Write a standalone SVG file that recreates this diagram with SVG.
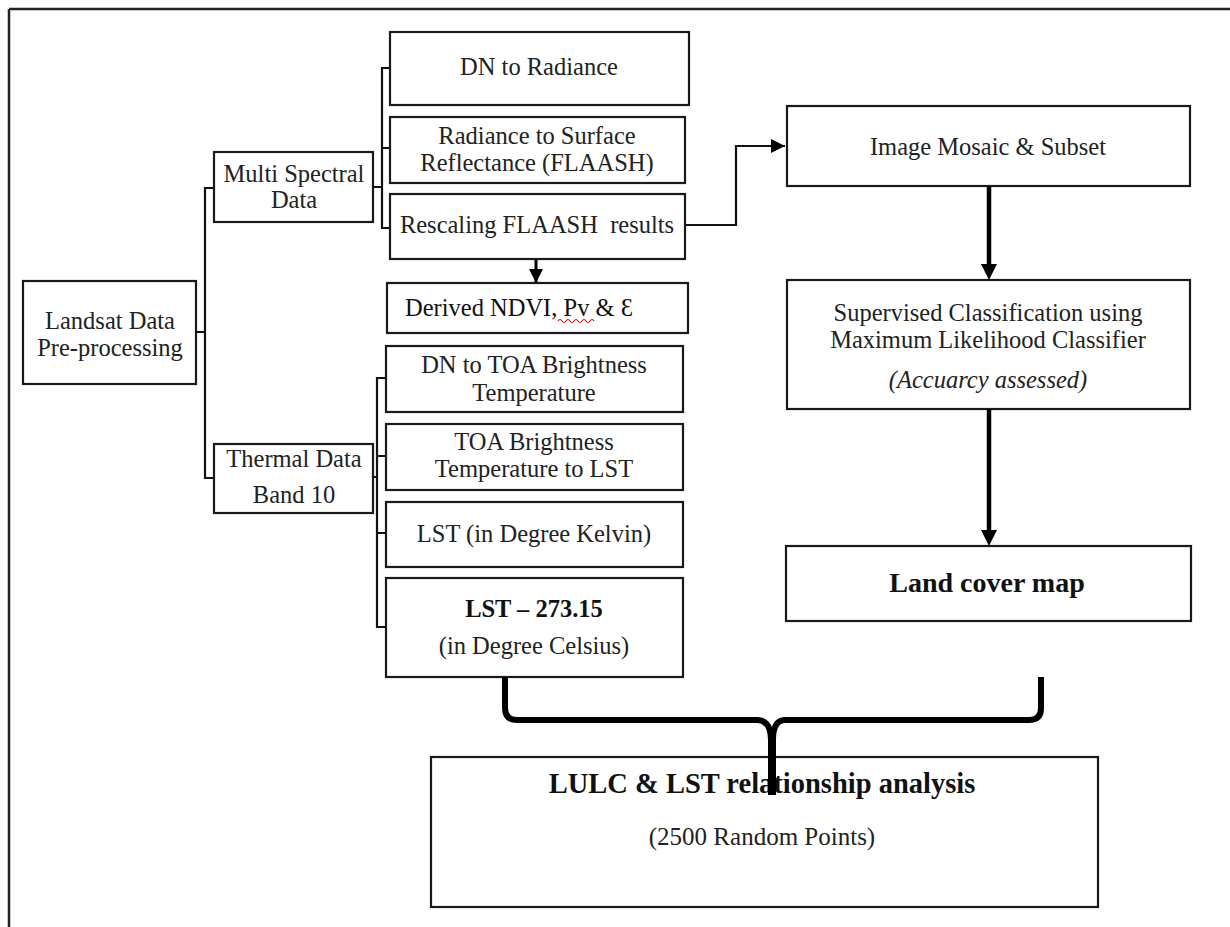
<svg xmlns="http://www.w3.org/2000/svg" width="1230" height="927" viewBox="0 0 1230 927">
<defs>
<style>
.box{fill:#fff;stroke:#1a1a1a;stroke-width:2.2}
.t{font-family:"Liberation Serif","Times New Roman",serif;font-size:24.5px;fill:#222;text-anchor:middle}
.b{font-weight:bold;fill:#111}
.i{font-style:italic}
.ln{fill:none;stroke:#111;stroke-width:2.2}
.thick{fill:none;stroke:#000;stroke-width:4.5}
.brace{fill:none;stroke:#000;stroke-width:6;stroke-linejoin:round}
</style>
<marker id="ah" viewBox="0 0 10 10" refX="5" refY="5" markerWidth="16" markerHeight="16" markerUnits="userSpaceOnUse" orient="auto">
<path d="M0,0 L10,5 L0,10 z" fill="#000"/>
</marker>
<marker id="ahs" viewBox="0 0 10 10" refX="10" refY="5" markerWidth="14" markerHeight="14" markerUnits="userSpaceOnUse" orient="auto">
<path d="M0,0 L10,5 L0,10 z" fill="#000"/>
</marker>
</defs>
<rect width="1230" height="927" fill="#fff"/>
<path d="M9,9 H1230 M9,9 V927" fill="none" stroke="#222" stroke-width="2.5"/>

<g id="landsat"><rect class="box" x="23" y="281" width="173" height="103"/>
<text class="t" x="110" y="329">Landsat Data</text><text class="t" x="110" y="356">Pre-processing</text></g>

<g id="multispectral"><rect class="box" x="214" y="152" width="159" height="70"/>
<text class="t" x="294" y="182">Multi Spectral</text><text class="t" x="294" y="208">Data</text></g>

<g id="thermal"><rect class="box" x="214" y="444" width="159" height="69"/>
<text class="t" x="294" y="467">Thermal Data</text><text class="t" x="294" y="503">Band 10</text></g>

<g id="dn-radiance"><rect class="box" x="390" y="32" width="299" height="73"/>
<text class="t" x="539" y="75">DN to Radiance</text></g>

<g id="radiance-reflectance"><rect class="box" x="390" y="117" width="295" height="66"/>
<text class="t" x="537" y="144">Radiance to Surface</text><text class="t" x="537" y="171">Reflectance (FLAASH)</text></g>

<g id="rescaling"><rect class="box" x="390" y="194" width="295" height="65"/>
<text class="t" x="537" y="233" xml:space="preserve">Rescaling FLAASH  results</text></g>

<g id="derived"><rect class="box" x="387" y="283" width="301" height="50"/>
<text class="t" x="405" y="316" style="text-anchor:start;fill:#111">Derived NDVI, Pv &amp; Ɛ</text>
<path d="M558,321 q2,-3 4,0 t4,0 t4,0 t4,0 t4,0 t4,0 t4,0 t4,0 t4,0" fill="none" stroke="#e01010" stroke-width="1.2"/></g>

<g id="dn-toa"><rect class="box" x="386" y="346" width="297" height="66"/>
<text class="t" x="534" y="373">DN to TOA Brightness</text><text class="t" x="534" y="401">Temperature</text></g>

<g id="toa-lst"><rect class="box" x="386" y="424" width="297" height="66"/>
<text class="t" x="534" y="450">TOA Brightness</text><text class="t" x="534" y="477">Temperature to LST</text></g>

<g id="lst-kelvin"><rect class="box" x="386" y="502" width="297" height="65"/>
<text class="t" x="534" y="542">LST (in Degree Kelvin)</text></g>

<g id="lst-celsius"><rect class="box" x="386" y="578" width="297" height="99"/>
<text class="t b" x="534" y="617">LST – 273.15</text><text class="t" x="534" y="654">(in Degree Celsius)</text></g>

<g id="mosaic"><rect class="box" x="787" y="106" width="403" height="80"/>
<text class="t" x="988" y="155">Image Mosaic &amp; Subset</text></g>

<g id="classification"><rect class="box" x="787" y="280" width="403" height="129"/>
<text class="t" x="988" y="321">Supervised Classification using</text>
<text class="t" x="988" y="348">Maximum Likelihood Classifier</text>
<text class="t i" x="988" y="388">(Accuarcy assessed)</text></g>

<g id="landcover"><rect class="box" x="786" y="546" width="405" height="75"/>
<text class="t b" x="987" y="592" style="font-size:28px">Land cover map</text></g>

<g id="lulc"><rect class="box" x="431" y="757" width="667" height="150"/>
<text class="t b" x="762" y="793" style="font-size:28.5px">LULC &amp; LST relationship analysis</text>
<text class="t" x="762" y="845" style="font-size:25px">(2500 Random Points)</text></g>

<g id="connectors">
<path class="ln" d="M196,332 H205 M214,188 H205 V478 H214"/>
<path class="ln" d="M373,187 H382 M390,68 H382 V228 H390 M382,148 H390"/>
<path class="ln" d="M373,477 H377 M386,378 H377 V627 H386 M377,456 H386 M377,533 H386"/>
<path class="ln" d="M685,225 H736 V146 H785" marker-end="url(#ahs)"/>
<path d="M536,259 V283" fill="none" stroke="#000" stroke-width="3" marker-end="url(#ahs)"/>
<path class="thick" d="M989,186 V272" marker-end="url(#ah)"/>
<path class="thick" d="M989,409 V538" marker-end="url(#ah)"/>
<path class="brace" d="M505,677 V708 Q505,720 517,720 H758 Q771,721 771,740 V795"/>
<path class="brace" d="M1041,677 V708 Q1041,720 1029,720 H784 Q773,721 773,740 V795"/>
</g>
</svg>
